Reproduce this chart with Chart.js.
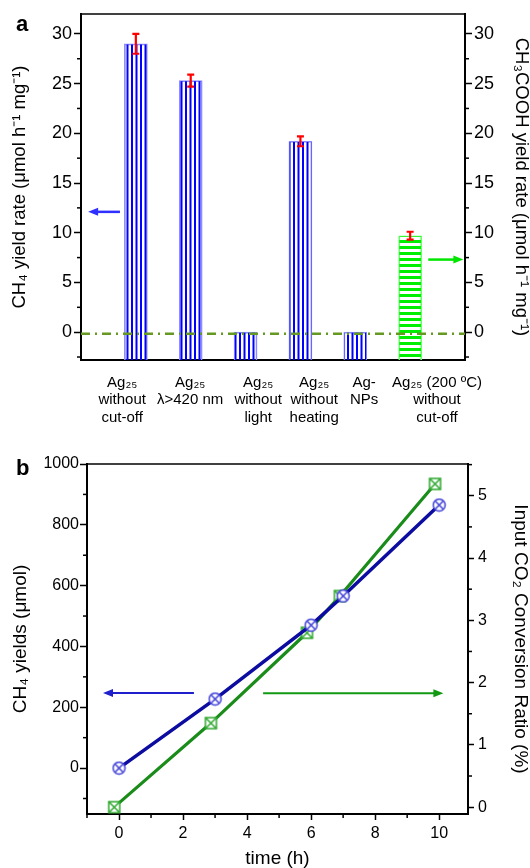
<!DOCTYPE html>
<html>
<head>
<meta charset="utf-8">
<script src="https://cdn.jsdelivr.net/npm/chart.js@4"></script>
<style>
  body { margin: 0; background: #fff; width: 530px; height: 868px; position: relative; overflow: hidden; font-family: "Liberation Sans", Arial, sans-serif; }
  #wrapA { position: absolute; left: 0; top: 0; width: 530px; height: 435px; }
  #wrapB { position: absolute; left: 0; top: 435px; width: 530px; height: 433px; }
  .tag { position: absolute; font-weight: bold; font-size: 22px; line-height: 25px; }
</style>
</head>
<body>
<div id="wrapA"><canvas id="chartA"></canvas></div>
<div id="wrapB"><canvas id="chartB"></canvas></div>
<div class="tag" style="left:16px;top:11px">a</div>
<div class="tag" style="left:16px;top:455px">b</div>
<script>
// panel a: yield rates per sample
const catLabels = [
  ["Ag₂₅", "without", "cut-off"],
  ["Ag₂₅", "λ>420 nm"],
  ["Ag₂₅", "without", "light"],
  ["Ag₂₅", "without", "heating"],
  ["Ag-", "NPs"],
  ["Ag₂₅ (200 ºC)", "without", "cut-off"]
];
const catX = [1, 2, 3, 4, 5, 6];
const labelAt = [0.75, 1.99, 3.23, 4.25, 5.16, 6.49];
const ch4Rate = [29.0, 25.3, 0, 19.2, 0, null];
const ch4Err = [1.0, 0.6, null, 0.5, null, null];
const acidRate = [null, null, null, null, null, 9.7];
const acidErr = [null, null, null, null, null, 0.4];
const zeroLineA = -0.15;
const rateMin = -2.8, rateMax = 32;
const rateTicks = [0, 5, 10, 15, 20, 25, 30];
const rateMinor = [-2.5, 2.5, 7.5, 12.5, 17.5, 22.5, 27.5];
const arrowsA = [
  { from: 0.71, to: 0.13, y: 12.1, axis: 'y', color: '#2f2fff' },
  { from: 6.33, to: 6.97, y: 7.3, axis: 'y2', color: '#00e600' }
];

// panel b: yields over time
const hours = [0, 3, 6, 7, 10];
const ch4Yield = [0, 227, 470, 566, 865];
const convHours = [-0.15, 2.87, 5.87, 6.9, 9.87];
const convRatio = [0, 1.35, 2.8, 3.39, 5.19];
const timeTicks = [0, 2, 4, 6, 8, 10];
const timeMinor = [-1, 1, 3, 5, 7, 9];
const yieldTicks = [0, 200, 400, 600, 800, 1000];
const yieldMinor = [-100, 100, 300, 500, 700, 900];
const ratioTicks = [0, 1, 2, 3, 4, 5];
const ratioMinor = [0.5, 1.5, 2.5, 3.5, 4.5, 5.5];
const arrowsB = [
  { from: 2.34, to: -0.5, y: 247, axis: 'y', color: '#1f1fcc' },
  { from: 4.5, to: 10.13, y: 1.83, axis: 'y2', color: '#119911' }
];

const FONT = '"Liberation Sans", Arial, sans-serif';
Chart.defaults.font.family = FONT;
Chart.defaults.color = '#000';

function stripes(color, vertical) {
  const c = document.createElement('canvas');
  const g = c.getContext('2d');
  if (vertical) {
    c.width = 9; c.height = 2;
    g.fillStyle = color;
    g.fillRect(0.5, 0, 2, 2);
    g.fillRect(5, 0, 2, 2);
  } else {
    c.width = 2; c.height = 6;
    g.fillStyle = color;
    g.fillRect(0, 0, 2, 3);
  }
  return g.createPattern(c, 'repeat');
}

function marker(shape, color) {
  const c = document.createElement('canvas');
  c.width = 15; c.height = 15;
  const g = c.getContext('2d');
  g.strokeStyle = color; g.fillStyle = '#fff'; g.lineWidth = 1.5;
  let d;
  if (shape === 'circle') {
    g.beginPath(); g.arc(7.5, 7.5, 6, 0, Math.PI * 2); g.fill(); g.stroke();
    d = 4.2;
  } else {
    g.fillRect(2, 2, 11, 11); g.strokeRect(2, 2, 11, 11);
    d = 5.5;
  }
  g.beginPath();
  g.moveTo(7.5 - d, 7.5 - d); g.lineTo(7.5 + d, 7.5 + d);
  g.moveTo(7.5 + d, 7.5 - d); g.lineTo(7.5 - d, 7.5 + d);
  g.stroke();
  return c;
}

function minorTicks(sets) {
  return {
    id: 'minorTicks',
    afterDraw(chart) {
      const ctx = chart.ctx, a = chart.chartArea;
      ctx.save();
      ctx.strokeStyle = '#000'; ctx.lineWidth = 1.5;
      for (const id in sets) {
        const s = chart.scales[id];
        sets[id].forEach(v => {
          if (v < s.min || v > s.max) return;
          const p = s.getPixelForValue(v);
          ctx.beginPath();
          if (s.position === 'left') { ctx.moveTo(a.left, p); ctx.lineTo(a.left - 4, p); }
          else if (s.position === 'right') { ctx.moveTo(a.right, p); ctx.lineTo(a.right + 4, p); }
          else { ctx.moveTo(p, a.bottom); ctx.lineTo(p, a.bottom + 4); }
          ctx.stroke();
        });
      }
      ctx.restore();
    }
  };
}

const topLine = {
  id: 'topLine',
  afterDraw(chart) {
    const ctx = chart.ctx, a = chart.chartArea;
    ctx.save();
    ctx.strokeStyle = '#000'; ctx.lineWidth = 1.5;
    ctx.beginPath(); ctx.moveTo(a.left, a.top); ctx.lineTo(a.right, a.top); ctx.stroke();
    ctx.restore();
  }
};

function arrows(list, width) {
  return {
    id: 'arrows',
    afterDatasetsDraw(chart) {
      const ctx = chart.ctx, x = chart.scales.x;
      ctx.save();
      list.forEach(ar => {
        const y = chart.scales[ar.axis].getPixelForValue(ar.y);
        const x1 = x.getPixelForValue(ar.from), x2 = x.getPixelForValue(ar.to);
        const dir = x2 > x1 ? 1 : -1;
        ctx.strokeStyle = ar.color; ctx.fillStyle = ar.color; ctx.lineWidth = width;
        ctx.beginPath(); ctx.moveTo(x1, y); ctx.lineTo(x2 - dir * 6, y); ctx.stroke();
        ctx.beginPath();
        ctx.moveTo(x2, y);
        ctx.lineTo(x2 - dir * 10, y - 4);
        ctx.lineTo(x2 - dir * 10, y + 4);
        ctx.closePath(); ctx.fill();
      });
      ctx.restore();
    }
  };
}

const errorBars = {
  id: 'errorBars',
  afterDatasetsDraw(chart) {
    const ctx = chart.ctx, x = chart.scales.x;
    ctx.save();
    ctx.strokeStyle = '#ff0000'; ctx.lineWidth = 2.2;
    const sets = [[ch4Rate, ch4Err, 'y'], [acidRate, acidErr, 'y2']];
    sets.forEach(([vals, errs, axis]) => {
      const s = chart.scales[axis];
      catX.forEach((cx, i) => {
        if (vals[i] == null || errs[i] == null) return;
        const px = x.getPixelForValue(cx);
        const top = s.getPixelForValue(vals[i] + errs[i]);
        const bot = s.getPixelForValue(vals[i] - errs[i]);
        ctx.beginPath();
        ctx.moveTo(px, top); ctx.lineTo(px, bot);
        ctx.moveTo(px - 3.5, top); ctx.lineTo(px + 3.5, top);
        ctx.moveTo(px - 3.5, bot); ctx.lineTo(px + 3.5, bot);
        ctx.stroke();
      });
    });
    ctx.restore();
  }
};

function yAxis(pos, min, max, ticks, size, title, titleSize, width, titlePad, tickLen, pad) {
  return {
    type: 'linear', position: pos, min: min, max: max,
    afterBuildTicks: s => { s.ticks = ticks.map(v => ({ value: v })); },
    afterFit: s => { s.width = width; },
    grid: { display: true, drawOnChartArea: false, drawTicks: true, tickLength: tickLen, tickWidth: 1.5, tickColor: '#000' },
    border: { display: true, color: '#000', width: 2 },
    ticks: { color: '#000', padding: pad, font: { size: size }, callback: v => String(v) },
    title: { display: true, text: title, color: '#000', font: { size: titleSize, lineHeight: 1 }, padding: { top: titlePad, bottom: 0 } }
  };
}

const blueBars = stripes('#0000ff', true);
const greenBars = stripes('#00ee00', false);

new Chart(document.getElementById('chartA'), {
  type: 'bar',
  data: {
    datasets: [
      {
        type: 'line',
        data: [{ x: 0, y: zeroLineA }, { x: 7, y: zeroLineA }],
        borderColor: '#669922', borderWidth: 2.5, borderDash: [9, 5, 2, 5],
        pointRadius: 0, yAxisID: 'y', order: 0
      },
      {
        data: catX.map((x, i) => ({ x: x, y: ch4Rate[i] })).filter(d => d.y != null),
        backgroundColor: blueBars, borderColor: '#8c8cff', borderWidth: 1,
        base: rateMin, barThickness: 23, grouped: false, yAxisID: 'y', order: 1
      },
      {
        data: catX.map((x, i) => ({ x: x, y: acidRate[i] })).filter(d => d.y != null),
        backgroundColor: greenBars, borderColor: '#66ff66', borderWidth: 1,
        base: rateMin, barThickness: 23, grouped: false, yAxisID: 'y2', order: 2
      }
    ]
  },
  options: {
    responsive: true,
    maintainAspectRatio: false,
    animation: false,
    layout: { padding: { top: 14, left: 0, right: 0, bottom: 0 } },
    plugins: { legend: { display: false }, tooltip: { enabled: false } },
    scales: {
      x: {
        type: 'linear', min: 0, max: 7, position: 'bottom', offset: false,
        afterBuildTicks: s => { s.ticks = labelAt.map(v => ({ value: v })); },
        afterFit: s => { s.height = 75; },
        grid: { display: false },
        border: { display: true, color: '#000', width: 2 },
        ticks: {
          color: '#000', padding: 6, maxRotation: 0, autoSkip: false,
          font: { size: 15, lineHeight: 1.17 },
          callback: (v, i) => catLabels[i]
        }
      },
      y: yAxis('left', rateMin, rateMax, rateTicks, 18, 'CH₄ yield rate (μmol h⁻¹ mg⁻¹)', 18.5, 81, 11, 7, 2),
      y2: yAxis('right', rateMin, rateMax, rateTicks, 18, 'CH₃COOH yield rate (μmol h⁻¹ mg⁻¹)', 18.5, 65, 0, 7, 2)
    }
  },
  plugins: [minorTicks({ y: rateMinor, y2: rateMinor }), topLine, errorBars, arrows(arrowsA, 2.5)]
});

new Chart(document.getElementById('chartB'), {
  type: 'line',
  data: {
    datasets: [
      {
        data: hours.map((h, i) => ({ x: h, y: ch4Yield[i] })),
        borderColor: '#0c0ca0', borderWidth: 3.5,
        pointStyle: marker('circle', '#4040d8'), pointRadius: 6,
        yAxisID: 'y'
      },
      {
        data: convHours.map((h, i) => ({ x: h, y: convRatio[i] })),
        borderColor: '#1a8c1a', borderWidth: 3.2,
        pointStyle: marker('rect', '#2ea82e'), pointRadius: 6,
        yAxisID: 'y2'
      }
    ]
  },
  options: {
    responsive: true,
    maintainAspectRatio: false,
    animation: false,
    layout: { padding: { top: 29, left: 0, right: 0, bottom: 0 } },
    plugins: { legend: { display: false }, tooltip: { enabled: false } },
    scales: {
      x: {
        type: 'linear', min: -1, max: 10.9, position: 'bottom',
        afterBuildTicks: s => { s.ticks = timeTicks.map(v => ({ value: v })); },
        afterFit: s => { s.height = 54; },
        grid: { display: true, drawOnChartArea: false, drawTicks: true, tickLength: 6, tickWidth: 1.5, tickColor: '#000' },
        border: { display: true, color: '#000', width: 2 },
        ticks: { color: '#000', padding: 4, maxRotation: 0, font: { size: 16 }, callback: v => String(v) },
        title: { display: true, text: 'time (h)', color: '#000', font: { size: 19, lineHeight: 1 }, padding: { top: 0, bottom: 0 } }
      },
      y: yAxis('left', -151, 1000, yieldTicks, 16, 'CH₄ yields (μmol)', 19, 87, 11.5, 7, 1),
      y2: yAxis('right', -0.11, 5.51, ratioTicks, 16, 'Input CO₂ Conversion Ratio (%)', 19, 62, 0.5, 6, 4)
    }
  },
  plugins: [minorTicks({ x: timeMinor, y: yieldMinor, y2: ratioMinor }), topLine, arrows(arrowsB, 2)]
});
</script>
</body>
</html>
